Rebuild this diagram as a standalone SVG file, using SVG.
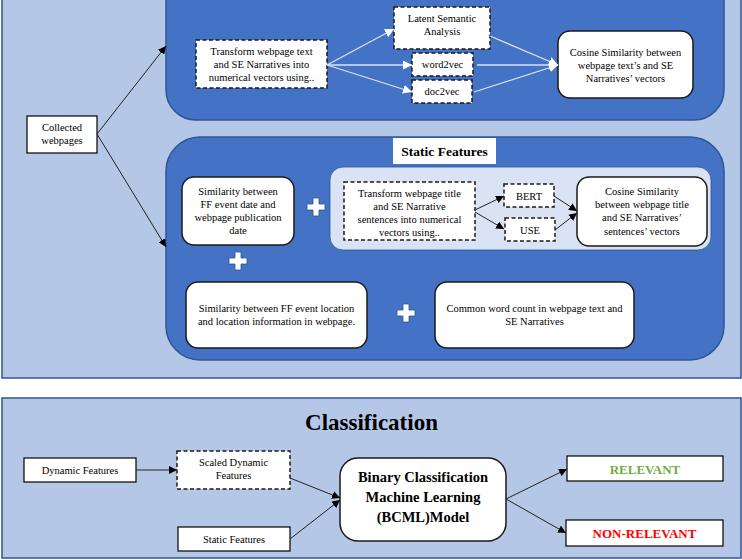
<svg xmlns="http://www.w3.org/2000/svg" width="742" height="560" viewBox="0 0 742 560">
<style>
text{font-family:'Liberation Serif','DejaVu Serif',serif}
.t{font-size:10.5px;fill:#000;text-anchor:middle}
.b{font-weight:bold}
.box{fill:#fff;stroke:#000;stroke-width:1.2}
.dash{fill:#fff;stroke:#1a1a1a;stroke-width:1.5;stroke-dasharray:4 2.5}
.rbox{fill:#fff;stroke:#1a1a1a;stroke-width:1.5}
.panel{fill:#b4c7e7;stroke:#2f5597;stroke-width:1.5}
.blue{fill:#4472c4;stroke:#2f5597;stroke-width:1.5}
.blk{stroke:#222;stroke-width:1;fill:none;marker-end:url(#ab)}
.wht{stroke:#dae3f3;stroke-width:1.3;fill:none;marker-end:url(#aw)}
.plus{fill:#fff;stroke:#2f5597;stroke-width:0.8}
</style>
<defs>
<marker id="ab" viewBox="0 0 10 10" refX="10" refY="5" markerWidth="8" markerHeight="8" markerUnits="userSpaceOnUse" orient="auto"><path d="M0,0 L10,5 L0,10 z" fill="#000"/></marker>
<marker id="aw" viewBox="0 0 10 10" refX="10" refY="5" markerWidth="9" markerHeight="9" markerUnits="userSpaceOnUse" orient="auto"><path d="M0,0 L10,5 L0,10 z" fill="#fff"/></marker>
<path id="pl" d="M-3,-9 H3 V-3 H9 V3 H3 V9 H-3 V3 H-9 V-3 H-3 Z"/>
</defs>

<g id="top-panel">
<rect class="panel" x="2" y="-10" width="739" height="388"/>
</g>
<g id="dynamic-features">
<rect class="blue" x="166" y="-60" width="558" height="180" rx="30"/>
</g>
<g id="static-features">
<rect class="blue" x="166" y="137" width="558" height="223" rx="34"/>
<rect x="393" y="138" width="103" height="26" fill="#fff"/>
<text class="t b" x="444.5" y="156" font-family="Liberation Serif, serif" style="font-size:13.5px">Static Features</text>
</g>
<g id="title-panel">
<rect x="330" y="167" width="381" height="83" rx="13" fill="#dae3f3" stroke="#2f5597" stroke-width="0.8"/>
</g>

<g id="collected">
<rect class="box" x="27" y="116" width="70" height="37"/>
<text class="t" x="62" y="131">Collected</text>
<text class="t" x="62" y="144">webpages</text>
</g>
<g id="transform-text">
<rect class="dash" x="196" y="40" width="131" height="48"/>
<text class="t" x="261.5" y="55">Transform webpage text</text>
<text class="t" x="261.5" y="68">and SE Narratives into</text>
<text class="t" x="261.5" y="81">numerical vectors using..</text>
</g>
<g id="lsa">
<rect class="dash" x="394" y="7" width="96" height="42"/>
<text class="t" x="442" y="22">Latent Semantic</text>
<text class="t" x="442" y="35">Analysis</text>
</g>
<g id="word2vec">
<rect class="dash" x="412" y="53" width="61" height="23"/>
<text class="t" x="442.5" y="68">word2vec</text>
</g>
<g id="doc2vec">
<rect class="dash" x="412" y="80" width="60" height="23"/>
<text class="t" x="442" y="95">doc2vec</text>
</g>
<g id="cosine-text">
<rect class="rbox" x="558" y="31" width="135" height="67" rx="12"/>
<text class="t" x="625.5" y="56">Cosine Similarity between</text>
<text class="t" x="625.5" y="69">webpage text’s and SE</text>
<text class="t" x="625.5" y="82">Narratives’ vectors</text>
</g>

<g id="date-sim">
<rect class="rbox" x="182" y="177" width="112" height="68" rx="12"/>
<text class="t" x="238" y="195">Similarity between</text>
<text class="t" x="238" y="208">FF event date and</text>
<text class="t" x="238" y="221">webpage publication</text>
<text class="t" x="238" y="234">date</text>
</g>
<g id="transform-title">
<rect class="dash" x="344" y="182" width="131" height="58"/>
<text class="t" x="409.5" y="197">Transform webpage title</text>
<text class="t" x="409.5" y="210">and SE Narrative</text>
<text class="t" x="409.5" y="223">sentences into numerical</text>
<text class="t" x="409.5" y="236">vectors using..</text>
</g>
<g id="bert">
<rect class="dash" x="504" y="184" width="50" height="23"/>
<text class="t" x="529" y="199.5">BERT</text>
</g>
<g id="use">
<rect class="dash" x="505" y="218" width="50" height="23"/>
<text class="t" x="530" y="233.5">USE</text>
</g>
<g id="cosine-title">
<rect class="rbox" x="577" y="177" width="130" height="69" rx="12"/>
<text class="t" x="642" y="195">Cosine Similarity</text>
<text class="t" x="642" y="208">between webpage title</text>
<text class="t" x="642" y="221">and SE Narratives’</text>
<text class="t" x="642" y="235">sentences’ vectors</text>
</g>
<g id="location-sim">
<rect class="rbox" x="186" y="282" width="181" height="66" rx="12"/>
<text class="t" x="276.5" y="312">Similarity between FF event location</text>
<text class="t" x="276.5" y="325">and location information in webpage.</text>
</g>
<g id="common-words">
<rect class="rbox" x="435" y="282" width="199" height="66" rx="12"/>
<text class="t" x="534.5" y="312">Common word count in webpage text and</text>
<text class="t" x="534.5" y="325">SE Narratives</text>
</g>
<g id="plus-signs">
<use href="#pl" class="plus" x="316" y="207"/>
<use href="#pl" class="plus" x="238" y="261"/>
<use href="#pl" class="plus" x="406" y="313"/>
</g>

<g id="bottom-panel">
<rect class="panel" x="2" y="398" width="739" height="160"/>
<text class="t b" x="371.5" y="430" style="font-size:23px">Classification</text>
</g>
<g id="dynamic-in">
<rect class="box" x="24" y="458" width="112" height="24"/>
<text class="t" x="80" y="473.5">Dynamic Features</text>
</g>
<g id="scaled">
<rect class="dash" x="177" y="451" width="113" height="38"/>
<text class="t" x="233.5" y="466">Scaled Dynamic</text>
<text class="t" x="233.5" y="479">Features</text>
</g>
<g id="static-in">
<rect class="box" x="178" y="527" width="112" height="24"/>
<text class="t" x="234" y="542.5">Static Features</text>
</g>
<g id="bcml">
<rect class="rbox" x="340" y="458" width="166" height="83" rx="18"/>
<text class="t b" x="423" y="482" style="font-size:14.5px">Binary Classification</text>
<text class="t b" x="423" y="502" style="font-size:14.5px">Machine Learning</text>
<text class="t b" x="423" y="522" style="font-size:14.5px">(BCML)Model</text>
</g>
<g id="relevant">
<rect class="box" x="567" y="456" width="156" height="25"/>
<text class="t b" x="645" y="473.5" style="font-size:13px;fill:#70ad47">RELEVANT</text>
</g>
<g id="non-relevant">
<rect class="box" x="566" y="520" width="157" height="26"/>
<text class="t b" x="644.5" y="538" style="font-size:13px;fill:#ff0000">NON-RELEVANT</text>
</g>

<g id="connectors">
<line class="blk" x1="97" y1="134" x2="166" y2="46"/>
<line class="blk" x1="97" y1="134" x2="166" y2="247"/>
<line class="wht" x1="327" y1="65" x2="394" y2="29"/>
<line class="wht" x1="327" y1="65" x2="412" y2="65"/>
<line class="wht" x1="327" y1="65" x2="412" y2="92"/>
<line class="wht" x1="490" y1="36" x2="558" y2="65"/>
<line class="wht" x1="477" y1="65" x2="558" y2="65"/>
<line class="wht" x1="474" y1="92" x2="558" y2="65"/>
<line class="blk" x1="475" y1="210" x2="504" y2="196"/>
<line class="blk" x1="475" y1="212" x2="504" y2="229"/>
<line class="blk" x1="554" y1="196" x2="577" y2="211"/>
<line class="blk" x1="555" y1="230" x2="577" y2="213"/>
<line class="blk" x1="136" y1="470" x2="177" y2="470"/>
<line class="blk" x1="290" y1="478" x2="340" y2="498"/>
<line class="blk" x1="290" y1="539" x2="340" y2="500"/>
<line class="blk" x1="506" y1="499" x2="567" y2="469"/>
<line class="blk" x1="506" y1="499" x2="566" y2="533"/>
</g>
</svg>
